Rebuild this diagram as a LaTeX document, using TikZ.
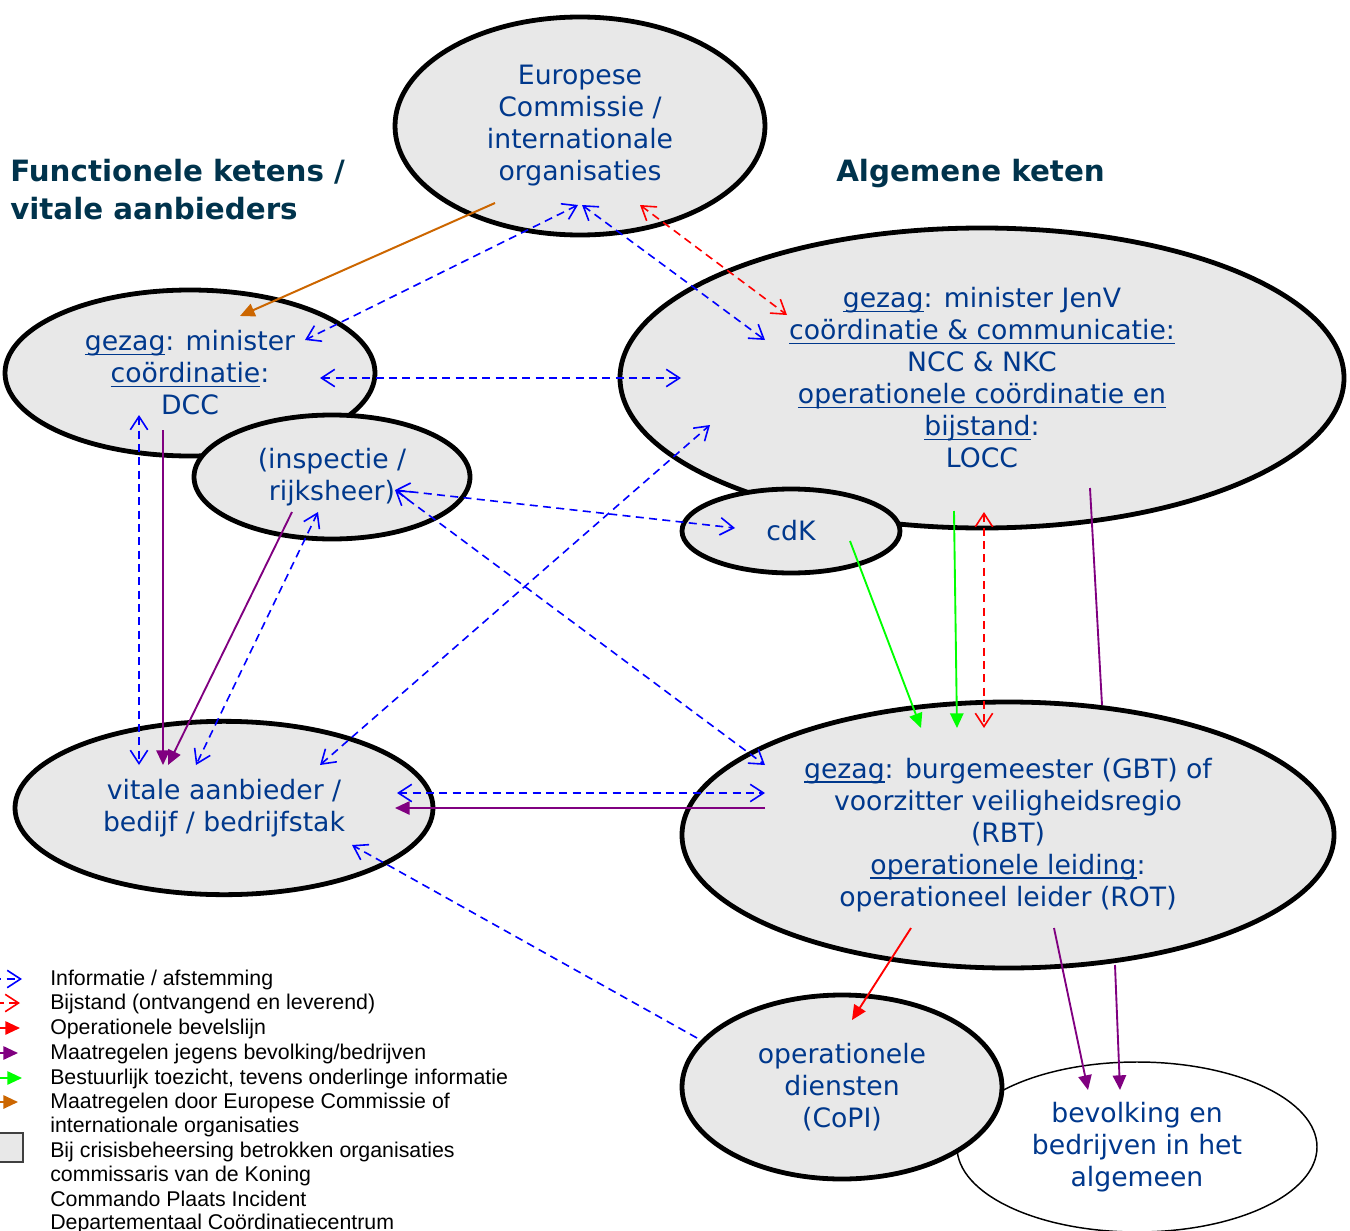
\documentclass[tikz,border=0pt]{standalone}
\usepackage{fontspec}
\setmainfont{DejaVu Sans}
\newfontfamily\legendfont{Liberation Sans}
\usetikzlibrary{shapes.geometric,arrows.meta}

\definecolor{orggray}{RGB}{232,232,232}
\definecolor{txtblue}{RGB}{0,56,140}
\definecolor{headblue}{RGB}{0,51,76}
\definecolor{maatpurple}{RGB}{128,0,128}
\definecolor{ecorange}{RGB}{204,102,0}
\newcommand{\uln}[1]{\setbox0=\hbox{#1}\rlap{\rule[-3.2pt]{\wd0}{0.9pt}}\box0}

\tikzset{
  barb/.tip={Straight Barb[length=10pt,width=13pt]},
  tri/.tip={Triangle[length=11pt,width=10pt]},
  org/.style={ellipse,draw,line width=3.6pt,fill=orggray,text=txtblue,inner sep=0pt,align=center,font=\fontsize{20}{24}\selectfont},
  public/.style={ellipse,draw,line width=1.1pt,fill=white,text=txtblue,inner sep=0pt,align=center,font=\fontsize{20}{24}\selectfont},
  info/.style={blue,line width=1.2pt,dash pattern=on 6pt off 4pt,-barb},
  infoboth/.style={info,barb-barb},
  bijstand/.style={red,line width=1.2pt,dash pattern=on 6pt off 4pt,barb-barb},
  bevel/.style={red,line width=1.4pt,-tri},
  maat/.style={maatpurple,line width=1.4pt,-tri},
  toezicht/.style={green,line width=1.4pt,-tri},
  euro/.style={ecorange,line width=1.5pt,-tri},
  legend/.style={anchor=base west,align=left,inner sep=0pt,font=\legendfont\fontsize{16}{18.3}\selectfont},
  heading/.style={anchor=west,align=left,inner sep=0pt,text=headblue,font=\bfseries\fontsize{22}{28.5}\selectfont}
}

\begin{document}
\begin{tikzpicture}[x=0.75pt,y=-0.75pt]
   \useasboundingbox (0,0) rectangle (1350,1231);
   \clip (0,0) rectangle (1350,1231);
   % organisations
   \foreach \pos/\name/\w/\h/\sty/\txt in {{(580,126)/ec/277.5/163.5/org/{Europese\\Commissie /\\internationale\\organisaties}},
      {(190,373)/dcc/277.5/124.5/org/{\uln{gezag}: minister\\\uln{coördinatie}:\\DCC}},
      {(332,477)/insp/207/93/org/{(inspectie /\\rijksheer)}},
      {(982,378)/jenv/543/225/org/{\uln{gezag}: minister JenV\\\uln{coördinatie \& communicatie:}\\NCC \& NKC\\\uln{operationele coördinatie en}\\\uln{bijstand}:\\LOCC}},
      {(791,531)/cdk/163.5/63/org/{cdK}},
      {(224,808)/vit/313.5/130/org/{vitale aanbieder /\\bedijf / bedrijfstak}},
      {(1008,835)/gbt/489/199.5/org/{\uln{gezag}: burgemeester (GBT) of\\voorzitter veiligheidsregio\\(RBT)\\\uln{operationele leiding}:\\operationeel leider (ROT)}},
      {(1137,1147)/bev/270/127.5/public/{bevolking en\\bedrijven in het\\algemeen}},
      {(842,1087)/copi/240/138/org/{operationele\\diensten\\(CoPI)}}}
   \node[\sty,minimum width=\w pt,minimum height=\h pt] (\name) at \pos {\txt};

   \node[heading] (hfunc) at (10,190) {Functionele ketens /\\vitale aanbieders};
   \node[heading] (halg) at (836,174) {Algemene keten};

   % informatie / afstemming
   \draw[infoboth] ([shift={(-2,79)}]ec.center) -- ([shift={(115,-33)}]dcc.center);
   \draw[infoboth] ([shift={(2,79)}]ec.center) -- ([shift={(-217,-38)}]jenv.center);
   \draw[infoboth] ([shift={(130,5)}]dcc.center) -- ([shift={(-301,0)}]jenv.center);
   \draw[infoboth] ([shift={(-51,42)}]dcc.center) -- ([shift={(-85,-43)}]vit.center);
   \draw[infoboth] ([shift={(-14,35)}]insp.center) -- ([shift={(-28,-43)}]vit.center);
   \draw[infoboth] ([shift={(63,13)}]insp.center) -- ([shift={(-56,-3)}]cdk.center);
   \draw[infoboth] ([shift={(63,13)}]insp.center) -- ([shift={(-243,-70)}]gbt.center);
   \draw[infoboth] ([shift={(96,-43)}]vit.center) -- ([shift={(-272,47)}]jenv.center);
   \draw[infoboth] ([shift={(173,-15)}]vit.center) -- ([shift={(-243,-42)}]gbt.center);
   \draw[info] ([shift={(-145,-49)}]copi.center) -- ([shift={(128,37)}]vit.center);
   % bijstand
   \draw[bijstand] ([shift={(60,79)}]ec.center) -- ([shift={(-195,-63)}]jenv.center);
   \draw[bijstand] ([shift={(2,134)}]jenv.center) -- ([shift={(-24,-107)}]gbt.center);
   % maatregelen door EC
   \draw[euro] ([shift={(-85,77)}]ec.center) -- ([shift={(50,-57)}]dcc.center);
   % maatregelen jegens bevolking/bedrijven
   \draw[maat] ([shift={(-27,57)}]dcc.center) -- ([shift={(-61,-43)}]vit.center);
   \draw[maat] ([shift={(-40,35)}]insp.center) -- ([shift={(-56,-43)}]vit.center);
   \draw[maat] ([shift={(-243,-27)}]gbt.center) -- ([shift={(171,0)}]vit.center);
   \draw[maat,-] ([shift={(108,110)}]jenv.center) -- ([shift={(94,-130)}]gbt.center);
   \draw[maat] ([shift={(46,93)}]gbt.center) -- ([shift={(-49,-57)}]bev.center);
   \draw[maat] ([shift={(107,130)}]gbt.center) -- ([shift={(-17,-57)}]bev.center);
   % bestuurlijk toezicht
   \draw[toezicht] ([shift={(59,10)}]cdk.center) -- ([shift={(-87,-107)}]gbt.center);
   \draw[toezicht] ([shift={(-28,133)}]jenv.center) -- ([shift={(-51,-107)}]gbt.center);
   % operationele bevelslijn
   \draw[bevel] ([shift={(-97,93)}]gbt.center) -- ([shift={(10,-67)}]copi.center);

   % legenda
   \foreach \y/\name/\txt in {985/linfo/{Informatie / afstemming}, 1009/lbijst/{Bijstand (ontvangend en leverend)},
      1034/lbevel/{Operationele bevelslijn}, 1059/lmaat/{Maatregelen jegens bevolking/bedrijven},
      1084/ltoez/{Bestuurlijk toezicht, tevens onderlinge informatie},
      1108/leuro/{Maatregelen door Europese Commissie of},
      1132/leuro2/{internationale organisaties},
      1157/lorg/{Bij crisisbeheersing betrokken organisaties}, 1181/lcdk/{commissaris van de Koning},
      1206/lcopi/{Commando Plaats Incident}, 1229/ldcc/{Departementaal Coördinatiecentrum}}
   \node[legend] (\name) at (50,\y) {\txt};
   \draw[info] ([shift={(-70,-6)}]linfo.base west) -- ([shift={(-28,-6)}]linfo.base west);
   \draw[bijstand] ([shift={(-70,-6)}]lbijst.base west) -- ([shift={(-30,-6)}]lbijst.base west);
   \draw[bevel] ([shift={(-70,-6)}]lbevel.base west) -- ([shift={(-30,-6)}]lbevel.base west);
   \draw[maat] ([shift={(-70,-6)}]lmaat.base west) -- ([shift={(-32,-6)}]lmaat.base west);
   \draw[toezicht] ([shift={(-70,-6)}]ltoez.base west) -- ([shift={(-28,-6)}]ltoez.base west);
   \draw[euro] ([shift={(-70,-6)}]leuro.base west) -- ([shift={(-32,-6)}]leuro.base west);
   \draw[fill=orggray,draw=black!75,line width=1pt] ([shift={(-52,-24)}]lorg.base west) rectangle ([shift={(-27,5)}]lorg.base west);
\end{tikzpicture}
\end{document}
